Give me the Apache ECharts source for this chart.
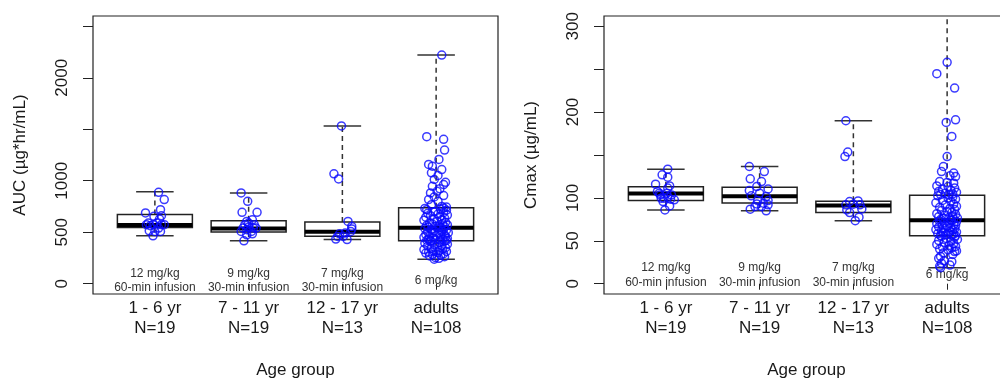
<!DOCTYPE html>
<html><head><meta charset="utf-8">
<script src="https://cdn.jsdelivr.net/npm/echarts@6/dist/echarts.min.js"></script>
<style>html,body{margin:0;padding:0;background:#fff;overflow:hidden}#chart{width:1000px;height:378px}</style>
</head><body><div id="chart"></div>
<script>
// ---------- categories & labels ----------
const categories = ['1 - 6 yr', '7 - 11 yr', '12 - 17 yr', 'adults'];
const groupN = [19, 19, 13, 108];
const doseLabels = ['12 mg/kg\n60-min infusion', '9 mg/kg\n30-min infusion', '7 mg/kg\n30-min infusion', '6 mg/kg'];
const xTitle = 'Age group';
const aucTitle = 'AUC (µg*hr/mL)';
const cmaxTitle = 'Cmax (µg/mL)';
const aucTicks = [0, 500, 1000, 1500, 2000, 2500];
const aucTickLabels = [0, 500, 1000, 2000];
const cmaxTicks = [0, 50, 100, 150, 200, 250, 300];
const cmaxTickLabels = [0, 50, 100, 200, 300];

// ---------- box statistics (whisker min, Q1, median, Q3, whisker max) ----------
const aucMin = [465, 417, 429, 238];
const aucQ1 = [546, 501, 462, 417];
const aucMed = [570, 537, 504, 543];
const aucQ3 = [673, 612, 599, 738];
const aucMax = [892, 882, 1532, 2221];

const cmaxMin = [86, 85, 73.5, 18.7];
const cmaxQ1 = [97, 94, 83, 56];
const cmaxMed = [105, 102, 91, 74];
const cmaxQ3 = [113, 112.5, 96, 103];
const cmaxMax = [133.5, 136.6, 189.9, 335];

// ---------- individual AUC values and horizontal jitter (category units) ----------
const aucG1 = [888, 817, 687, 719, 654, 660, 628, 589, 573, 589, 573, 563, 514, 507, 507, 465, 540, 573, 573];
const aucG1Jit = [0.04, 0.10, -0.10, 0.06, -0.01, 0.07, 0.05, -0.07, -0.02, 0.02, 0.07, -0.05, -0.06, 0.00, 0.06, -0.02, 0.04, -0.09, 0.10];
const aucG2 = [882, 800, 693, 693, 621, 605, 573, 573, 550, 540, 540, 524, 540, 475, 485, 417, 507, 507, 589];
const aucG2Jit = [-0.08, -0.01, -0.07, 0.09, 0.04, -0.02, -0.04, 0.06, 0.00, -0.06, 0.05, -0.02, 0.08, -0.02, 0.04, -0.05, 0.03, -0.08, 0.00];
const aucG3 = [1532, 1067, 1018, 605, 556, 507, 492, 485, 459, 433, 429, 531, 459];
const aucG3Jit = [-0.01, -0.09, -0.04, 0.06, 0.10, 0.09, 0.03, -0.03, -0.05, -0.07, 0.05, 0.10, 0.01];
const aucG4 = [2221, 1428, 1402, 1298, 1207, 1158, 1141, 1109, 1077, 1051, 1012, 985, 963, 946, 921, 898, 882, 856, 843, 817, 800, 768, 751, 745, 736, 719, 702,
  731, 722, 714, 698, 691, 684, 676, 667, 661, 650, 646, 637, 629, 621, 616, 604, 597, 592, 583, 579, 571, 566, 561, 557, 552, 548, 545,
  541, 536, 530, 527, 519, 513, 508, 503, 496, 491, 486, 478, 474, 469, 462, 458, 451, 447, 443, 438, 434, 431, 428, 425, 422, 420, 418,
  414, 407, 399, 393, 384, 379, 371, 365, 357, 350, 344, 337, 331, 326, 319, 313, 308, 302, 297, 291, 284, 277, 270, 262, 255, 246, 238];
const aucG4Jit = [0.06, -0.10, 0.08, 0.09, 0.03, -0.08, -0.04, 0.06, -0.05, 0.02, -0.02, 0.10, 0.08, -0.04, 0.04, 0.01, -0.06, 0.08, -0.02, -0.08, 0.02, -0.05, 0.06, 0.11, 0.08, -0.10, -0.01,
  -0.12, 0.05, 0.11, -0.03, 0.08, -0.09, 0.02, 0.12, -0.06, 0.04, -0.11, 0.09, -0.02, 0.06, -0.13, 0.01, 0.10, -0.07, 0.07, -0.04, 0.12, -0.10, 0.03, -0.01, 0.09, -0.08, 0.05,
  0.02, -0.12, 0.08, -0.05, 0.11, -0.02, 0.06, -0.09, 0.13, -0.04, 0.03, -0.11, 0.09, 0.00, -0.07, 0.10, -0.13, 0.05, -0.03, 0.12, -0.08, 0.07, -0.01, 0.04, -0.10, 0.11, -0.06,
  0.09, -0.06, 0.03, -0.12, 0.12, -0.02, 0.06, -0.09, 0.01, 0.10, -0.05, 0.07, -0.13, 0.04, -0.03, 0.11, -0.08, 0.02, -0.11, 0.08, -0.04, 0.05, -0.07, 0.09, -0.01, 0.03, -0.02];

// ---------- individual Cmax values and jitter ----------
const cmaxG1 = [133.5, 126.9, 124.2, 116, 114, 111.4, 107.4, 105.5, 105.5, 103.5, 99.7, 100.9, 97.7, 95.7, 90.7, 86, 103.5, 99.7, 98.5];
const cmaxG1Jit = [0.02, -0.04, 0.02, -0.11, 0.04, 0.02, -0.09, 0.01, -0.07, 0.06, -0.05, 0.02, 0.09, -0.03, 0.04, -0.01, -0.06, -0.02, 0.05];
const cmaxG2 = [136.6, 130.7, 122.2, 119, 113.2, 110.5, 108.6, 105.5, 102.4, 101.6, 96.9, 96.9, 93.8, 93, 89.9, 86.8, 85, 89.9, 91.9];
const cmaxG2Jit = [-0.11, 0.05, -0.10, 0.02, -0.03, 0.09, -0.11, 0.00, -0.09, 0.07, -0.02, 0.09, 0.04, -0.03, 0.02, -0.10, 0.07, -0.05, 0.09];
const cmaxG3 = [189.9, 153.4, 148.2, 95.7, 96.5, 91.9, 92.7, 91.9, 87.2, 86, 82.9, 77.5, 73.5];
const cmaxG3Jit = [-0.08, -0.06, -0.09, -0.04, 0.05, -0.08, 0.00, 0.07, 0.09, -0.07, -0.04, 0.06, 0.02];
const cmaxG4 = [335, 258, 244.8, 228, 191, 188, 171.6, 148.2, 136.6, 130.7, 128.9, 125.7, 124.8, 119, 118, 117.2, 114, 113.2, 111.5, 110.2, 108.8, 107.5, 106.6, 105.4, 104.6, 103.9, 103.3,
  102.4, 101.1, 99.8, 98.6, 97.1, 95.9, 94.3, 92.8, 91.6, 90.2, 89.1, 87.7, 86.4, 85.2, 84.1, 82.9, 81.6, 80.8, 79.7, 78.9, 78.1, 77.2, 76.5, 75.9, 75.2, 74.7, 74.2,
  73.6, 72.9, 72.1, 71.4, 70.6, 69.9, 69.1, 68.3, 67.6, 66.8, 66.1, 65.2, 64.6, 63.8, 63.1, 62.3, 61.5, 60.9, 60.2, 59.6, 58.9, 58.3, 57.8, 57.2, 56.7, 56.3, 55.9,
  55.1, 54.0, 52.8, 51.5, 50.3, 49.2, 48.1, 47.0, 45.8, 44.6, 43.5, 42.7, 41.6, 40.4, 39.5, 38.2, 37.4, 35.9, 34.1, 31.8, 29.6, 26.8, 25.7, 23.9, 21.7, 20.2, 18.7];
const cmaxG4Jit = [0.00, 0.00, -0.11, 0.08, 0.09, -0.01, 0.05, 0.00, -0.04, -0.06, 0.07, 0.03, 0.09, -0.08, 0.00, 0.07, -0.11, 0.01, 0.08, -0.05, 0.04, -0.09, 0.10, -0.02, 0.06, -0.07, 0.02,
  -0.10, 0.06, 0.01, 0.09, -0.05, 0.04, -0.12, 0.07, -0.02, 0.10, -0.08, 0.03, 0.08, -0.06, 0.00, 0.05, -0.11, 0.09, -0.03, 0.06, -0.09, 0.02, 0.11, -0.04, 0.07, -0.07, 0.04,
  0.05, -0.08, 0.10, -0.03, 0.02, -0.11, 0.07, -0.05, 0.09, 0.00, -0.09, 0.04, -0.02, 0.08, -0.12, 0.06, -0.06, 0.03, 0.10, -0.04, 0.01, -0.10, 0.07, -0.01, 0.05, -0.07, 0.09,
  -0.06, 0.08, -0.01, 0.11, -0.09, 0.04, -0.03, 0.07, -0.11, 0.02, 0.09, -0.05, 0.05, -0.08, 0.01, 0.10, 0.08, -0.04, 0.06, -0.07, -0.09, -0.03, 0.05, -0.06, 0.03, -0.08, -0.07];

// ---------- build series data ----------
const FONT = '"Liberation Sans", Arial, Helvetica, sans-serif';
const aucGroups = [[aucG1, aucG1Jit], [aucG2, aucG2Jit], [aucG3, aucG3Jit], [aucG4, aucG4Jit]];
const cmaxGroups = [[cmaxG1, cmaxG1Jit], [cmaxG2, cmaxG2Jit], [cmaxG3, cmaxG3Jit], [cmaxG4, cmaxG4Jit]];
function pointData(groups) {
  const out = [];
  groups.forEach(([vals, jit], g) => vals.forEach((v, k) => out.push([g + 1 + jit[k], v])));
  return out;
}
function boxData(mn, q1, md, q3, mx) {
  return categories.map((c, i) => [i + 1, mn[i], q1[i], md[i], q3[i], mx[i]]);
}

function boxItem(params, api) {
  const x = api.value(0);
  const pMin = api.coord([x, api.value(1)]);
  const pQ1 = api.coord([x, api.value(2)]);
  const pMed = api.coord([x, api.value(3)]);
  const pQ3 = api.coord([x, api.value(4)]);
  const pMax = api.coord([x, api.value(5)]);
  const half = api.size([0.4, 0])[0];
  const st = api.size([0.2, 0])[0];
  const cx = pMed[0];
  const dash = {stroke: '#333', lineWidth: 1.5, lineDash: [5, 4]};
  const solid = {stroke: '#333', lineWidth: 1.5};
  return {type: 'group', children: [
    {type: 'line', shape: {x1: cx, y1: pQ3[1], x2: cx, y2: pMax[1]}, style: dash},
    {type: 'line', shape: {x1: cx, y1: pQ1[1], x2: cx, y2: pMin[1]}, style: dash},
    {type: 'line', shape: {x1: cx - st, y1: pMax[1], x2: cx + st, y2: pMax[1]}, style: solid},
    {type: 'line', shape: {x1: cx - st, y1: pMin[1], x2: cx + st, y2: pMin[1]}, style: solid},
    {type: 'rect', shape: {x: cx - half, y: pQ3[1], width: 2 * half, height: pQ1[1] - pQ3[1]}, style: {fill: 'none', stroke: '#222', lineWidth: 1.5}},
    {type: 'line', shape: {x1: cx - half, y1: pMed[1], x2: cx + half, y2: pMed[1]}, style: {stroke: '#000', lineWidth: 4}}
  ]};
}
function labelItem(params, api) {
  const p = api.coord([api.value(0), api.value(1)]);
  return {type: 'text', x: p[0], y: p[1], style: {
    text: doseLabels[params.dataIndex], align: 'center', verticalAlign: 'middle',
    fontSize: 12, lineHeight: 14.5, fontFamily: FONT, fill: '#333'
  }};
}

function xAxisCfg(gi) {
  return {
    type: 'value', gridIndex: gi, min: 0.34, max: 4.66,
    splitLine: {show: false}, axisLine: {show: false},
    axisTick: {show: true, customValues: [1, 2, 3, 4], length: 6, lineStyle: {color: '#222', width: 1}},
    axisLabel: {customValues: [1, 2, 3, 4], margin: 4, fontSize: 17, lineHeight: 20, color: '#1a1a1a', fontFamily: FONT,
      formatter: v => categories[Math.round(v) - 1] + '\nN=' + groupN[Math.round(v) - 1]},
    name: xTitle, nameLocation: 'middle', nameGap: 68,
    nameTextStyle: {fontSize: 17, color: '#1a1a1a', fontFamily: FONT}
  };
}
function yAxisCfg(gi, mn, mx, ticks, labels, title) {
  return {
    type: 'value', gridIndex: gi, min: mn, max: mx,
    splitLine: {show: false}, axisLine: {show: false},
    axisTick: {show: true, customValues: ticks, length: 10, lineStyle: {color: '#222', width: 1}},
    axisLabel: {customValues: labels, rotate: 90, margin: 22, fontSize: 17, color: '#1a1a1a', fontFamily: FONT,
      formatter: v => String(v)},
    name: title, nameLocation: 'middle', nameRotate: 90, nameGap: 64,
    nameTextStyle: {fontSize: 17, color: '#1a1a1a', fontFamily: FONT}
  };
}

const chart = echarts.init(document.getElementById('chart'), null, {renderer: 'canvas'});
chart.setOption({
  animation: false,
  backgroundColor: '#fff',
  grid: [
    {left: 93, top: 16, width: 405, height: 278, outerBoundsMode: 'none', containLabel: false, show: true, borderColor: '#222', borderWidth: 1.2, backgroundColor: 'transparent'},
    {left: 604, top: 16, width: 405, height: 278, outerBoundsMode: 'none', containLabel: false, show: true, borderColor: '#222', borderWidth: 1.2, backgroundColor: 'transparent'}
  ],
  xAxis: [xAxisCfg(0), xAxisCfg(1)],
  yAxis: [
    yAxisCfg(0, -100, 2600, aucTicks, aucTickLabels, aucTitle),
    yAxisCfg(1, -12, 312, cmaxTicks, cmaxTickLabels, cmaxTitle)
  ],
  series: [
    {type: 'custom', xAxisIndex: 0, yAxisIndex: 0, renderItem: boxItem, clip: true,
      encode: {x: 0, y: [1, 2, 3, 4, 5]}, data: boxData(aucMin, aucQ1, aucMed, aucQ3, aucMax), z: 2, silent: true},
    {type: 'custom', xAxisIndex: 1, yAxisIndex: 1, renderItem: boxItem, clip: true,
      encode: {x: 0, y: [1, 2, 3, 4, 5]}, data: boxData(cmaxMin, cmaxQ1, cmaxMed, cmaxQ3, cmaxMax), z: 2, silent: true},
    {type: 'custom', xAxisIndex: 0, yAxisIndex: 0, renderItem: labelItem,
      encode: {x: 0, y: 1}, data: categories.map((c, i) => [i + 1, 30]), z: 3, silent: true},
    {type: 'custom', xAxisIndex: 1, yAxisIndex: 1, renderItem: labelItem,
      encode: {x: 0, y: 1}, data: categories.map((c, i) => [i + 1, 10]), z: 3, silent: true},
    {type: 'scatter', xAxisIndex: 0, yAxisIndex: 0, data: pointData(aucGroups), symbol: 'circle', symbolSize: 8, clip: true,
      itemStyle: {color: 'transparent', borderColor: '#0a0aff', borderWidth: 1.5}, z: 4, silent: true},
    {type: 'scatter', xAxisIndex: 1, yAxisIndex: 1, data: pointData(cmaxGroups), symbol: 'circle', symbolSize: 8, clip: true,
      itemStyle: {color: 'transparent', borderColor: '#0a0aff', borderWidth: 1.5}, z: 4, silent: true}
  ]
});
</script></body></html>
